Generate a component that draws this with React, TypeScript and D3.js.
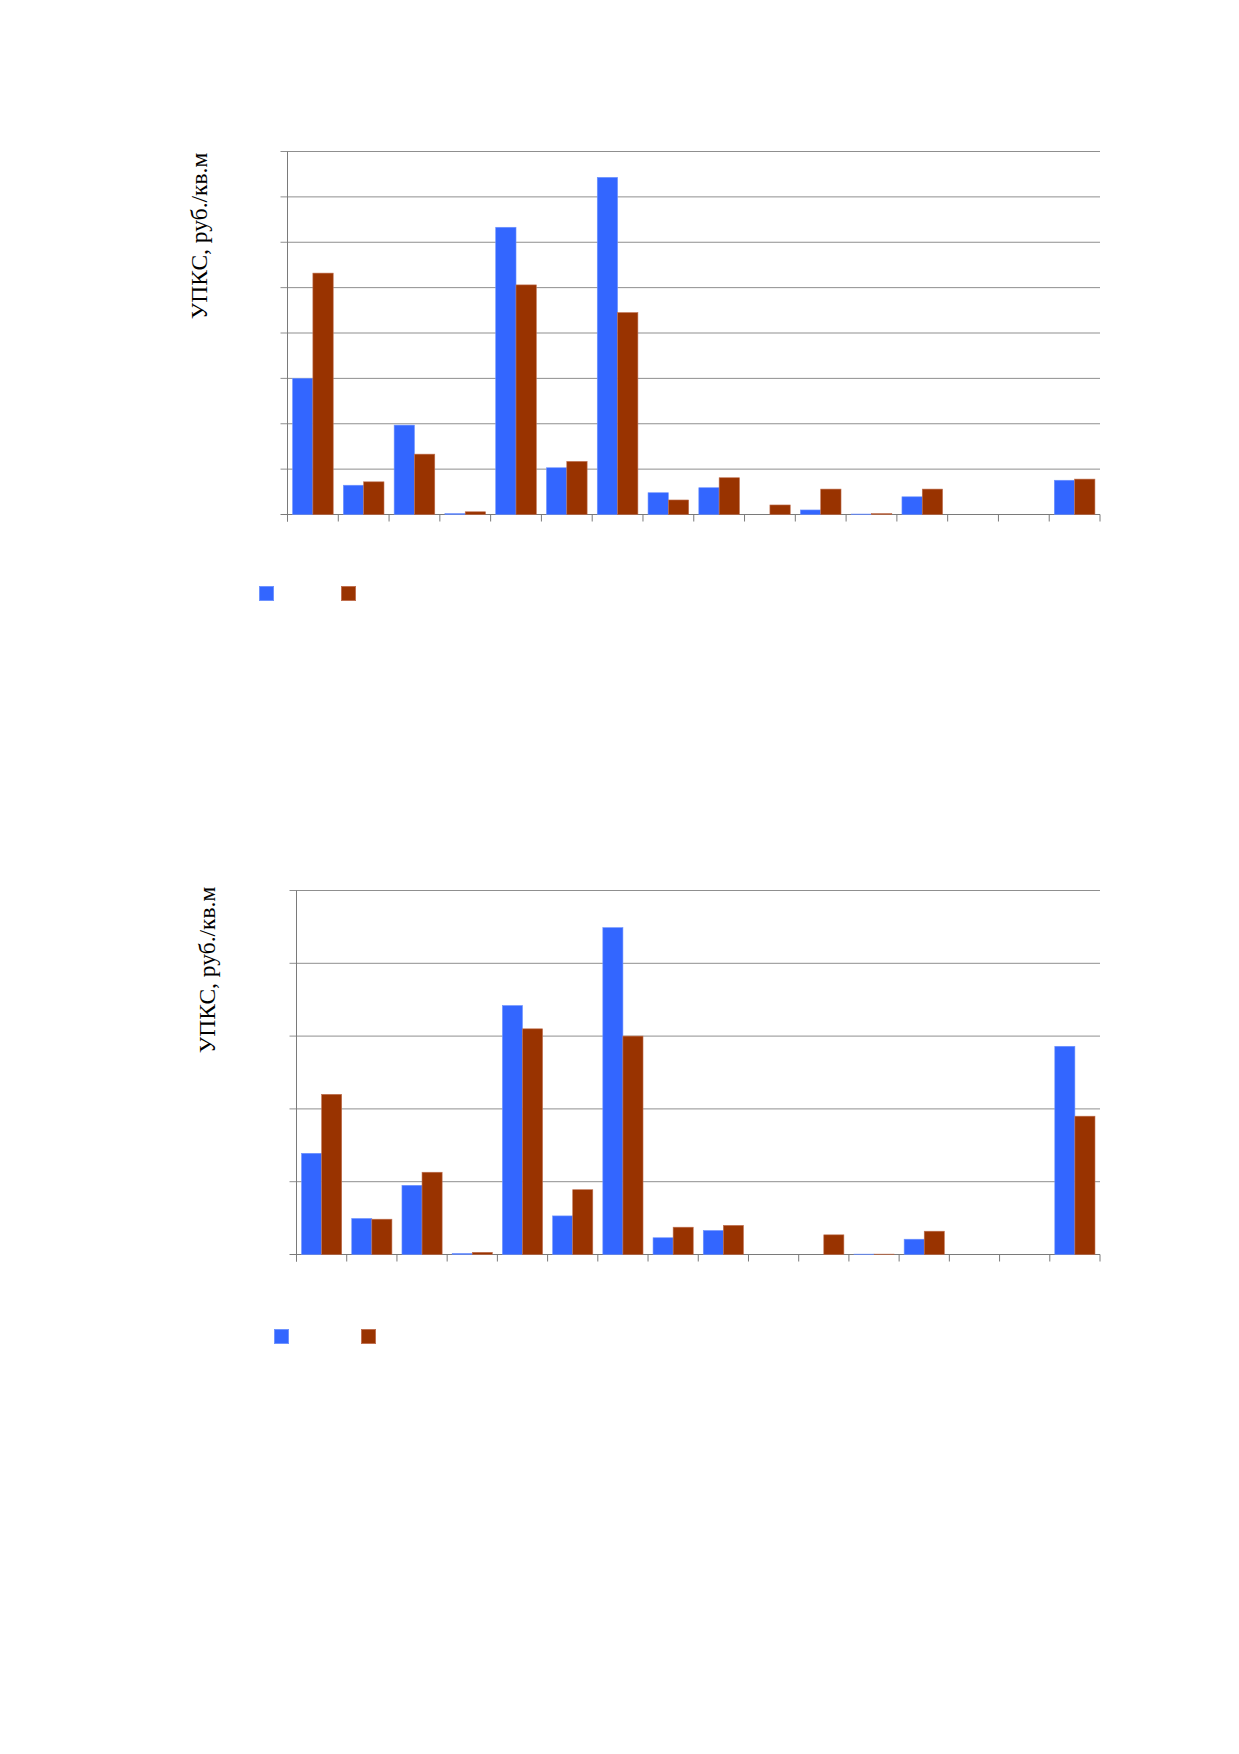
import React from "react";
import * as d3 from "d3";

const categories = ["1","2","3","4","5","6","7","8","9","10","11","12","13","14","15","16"];

// Chart 1 (gridline units, 0..8)
const chart1Blue = [3.0,0.645,1.97,0.02,6.33,1.03,7.43,0.48,0.59,0,0.1,0.01,0.39,0,0,0.755];
const chart1Brown = [5.32,0.72,1.33,0.06,5.06,1.17,4.45,0.32,0.81,0.21,0.56,0.02,0.56,0,0,0.78];
const chart1Ticks = [0,1,2,3,4,5,6,7,8];

// Chart 2 (gridline units, 0..5)
const chart2Blue = [1.39,0.495,0.95,0.014,3.42,0.53,4.49,0.23,0.33,0,0,0.005,0.21,0,0,2.86];
const chart2Brown = [2.2,0.485,1.13,0.03,3.1,0.89,3.0,0.375,0.4,0,0.27,0.005,0.32,0,0,1.9];
const chart2Ticks = [0,1,2,3,4,5];

const yTitle = "УПКС, руб./кв.м";
const seriesKeys = ["a", "b"];
const colors = ["#3366FF", "#993300"];
const strokes = ["#6f93ff", "#c07050"];

type ChartProps = {
  left: number; right: number; top: number; bottom: number;
  blue: number[]; brown: number[]; ticks: number[];
  titleX: number; titleY: number;
  legendX: number[]; legendY: number;
};

function BarChart(p: ChartProps) {
  const x = d3.scaleBand<string>().domain(categories).range([p.left, p.right]).paddingInner(0.2).paddingOuter(0.1);
  const step = (p.right - p.left) / categories.length;
  const xs = d3.scaleBand<string>().domain(seriesKeys).range([0, x.bandwidth()]);
  const y = d3.scaleLinear().domain([0, p.ticks[p.ticks.length - 1]]).range([p.bottom, p.top]);
  const tickPositions = d3.range(categories.length + 1).map((i) => p.left + i * step);
  const series = [p.blue, p.brown];
  return (
    <g>
      {p.ticks.map((t) => (
        <line key={"g" + t} x1={p.left - 7} x2={p.right} y1={y(t)} y2={y(t)} stroke={t === 0 ? "#7a7a7a" : "#8f8f8f"} strokeWidth={1} />
      ))}
      <line x1={p.left} x2={p.left} y1={p.top} y2={p.bottom + 7} stroke="#7a7a7a" strokeWidth={1} />
      {tickPositions.map((tx, i) => (
        <line key={"t" + i} x1={tx} x2={tx} y1={p.bottom} y2={p.bottom + 7} stroke="#7a7a7a" strokeWidth={1} />
      ))}
      {categories.map((c, i) =>
        series.map((s, k) => {
          const v = s[i];
          if (v <= 0) return null;
          const bx = (x(c) as number) + (xs(seriesKeys[k]) as number);
          return (
            <rect key={c + "-" + k} x={bx} y={y(v)} width={xs.bandwidth()} height={p.bottom - y(v)} fill={colors[k]} stroke={strokes[k]} strokeWidth={0.6} />
          );
        })
      )}
      <text transform={`translate(${p.titleX},${p.titleY}) rotate(-90)`} textAnchor="middle" fontFamily="'Liberation Serif', 'Times New Roman', serif" fontSize={23.5} fill="#000">
        {yTitle}
      </text>
      {p.legendX.map((lx, k) => (
        <rect key={"l" + k} x={lx} y={p.legendY} width={14} height={14} fill={colors[k]} stroke={strokes[k]} strokeWidth={1} />
      ))}
    </g>
  );
}

export default function App() {
  return (
    <svg width={1239} height={1754} style={{ position: "absolute", left: 0, top: 0, background: "#fff" }}>
      <rect x={0} y={0} width={1239} height={1754} fill="#fff" />
      <BarChart left={287.5} right={1100} top={151.5} bottom={514.5} blue={chart1Blue} brown={chart1Brown} ticks={chart1Ticks}
        titleX={206.5} titleY={236} legendX={[259.5, 341.5]} legendY={586.5} />
      <BarChart left={296.5} right={1100} top={890.5} bottom={1254.5} blue={chart2Blue} brown={chart2Brown} ticks={chart2Ticks}
        titleX={215} titleY={970} legendX={[274.5, 361.5]} legendY={1329.5} />
    </svg>
  );
}
